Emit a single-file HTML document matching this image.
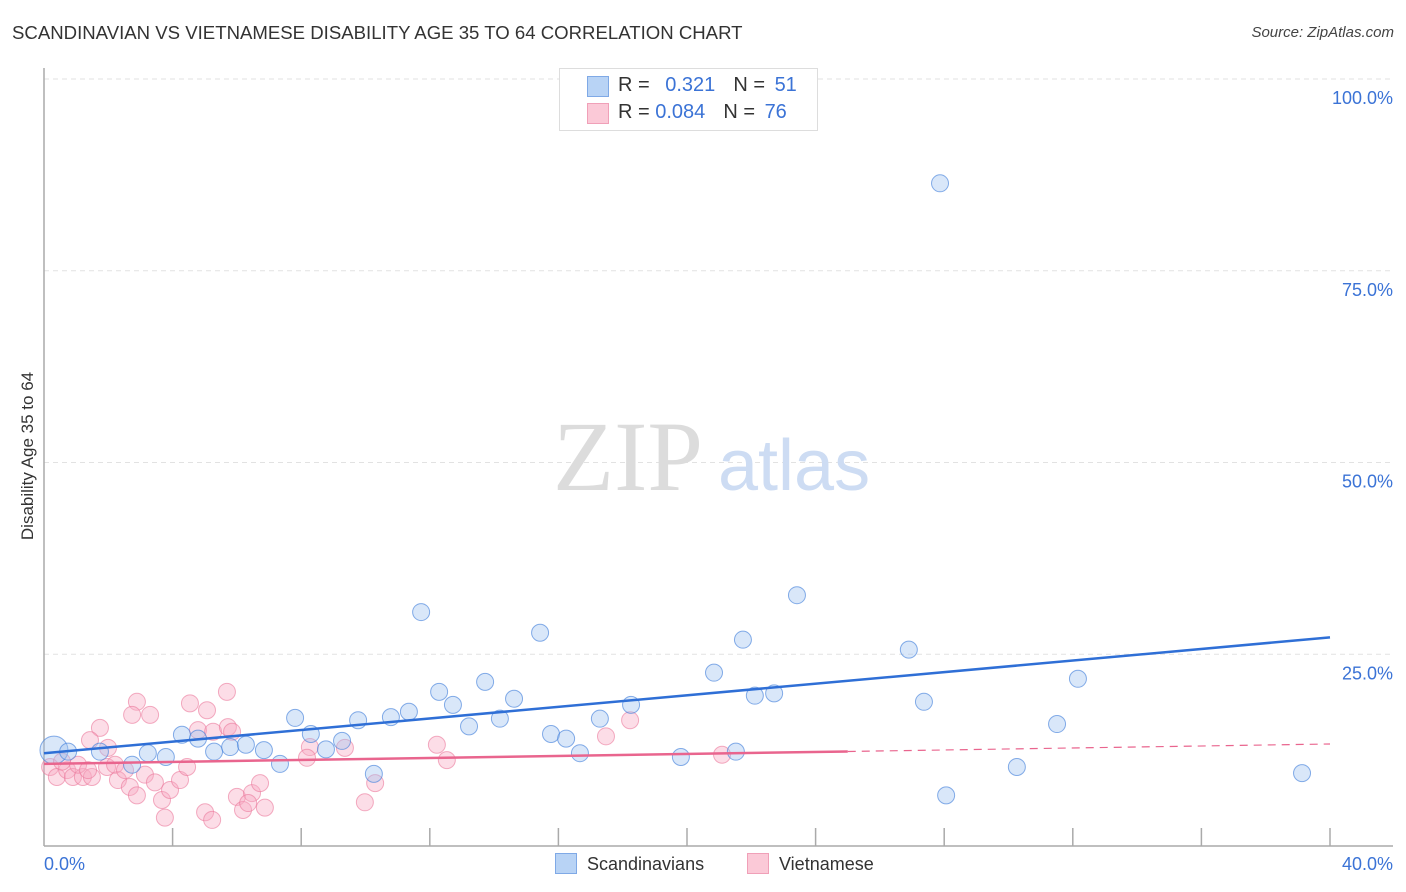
<!DOCTYPE html>
<html><head><meta charset="utf-8">
<style>
body{margin:0;background:#fff;font-family:"Liberation Sans",sans-serif;}
#wrap{position:relative;width:1406px;height:892px;overflow:hidden;}
.t{position:absolute;white-space:nowrap;}
</style></head>
<body>
<div id="wrap">
<div class="t" style="left:12px;top:22px;font-size:18.6px;color:#333;">SCANDINAVIAN VS VIETNAMESE DISABILITY AGE 35 TO 64 CORRELATION CHART</div>
<div class="t" style="right:12px;top:24px;font-size:15px;color:#444;font-style:italic;">Source: ZipAtlas.com</div>
<div class="t" style="left:28px;top:456px;font-size:17px;color:#333;transform:translate(-50%,-50%) rotate(-90deg);">Disability Age 35 to 64</div>
<svg id="plot" width="1406" height="892" style="position:absolute;left:0;top:0;"></svg>
<div class="t" style="left:559px;top:68px;width:257px;height:61px;border:1px solid #ddd;background:#fff;"></div>
<div class="t" style="left:587px;top:76px;width:20px;height:19px;background:#b8d3f5;border:1px solid #7fa9e6;"></div>
<div class="t" style="left:587px;top:103px;width:20px;height:19px;background:#fbc9d7;border:1px solid #f0a0b8;"></div>
<div class="t" style="left:618px;top:74px;font-size:20px;color:#333;">R = <span style="color:#3b73d6;margin-left:10px">0.321</span><span style="margin-left:18px">N = </span><span style="color:#3b73d6;margin-left:4px">51</span></div>
<div class="t" style="left:618px;top:101px;font-size:20px;color:#333;">R = <span style="color:#3b73d6">0.084</span><span style="margin-left:18px">N = </span><span style="color:#3b73d6;margin-left:4px">76</span></div>
<div class="t" style="left:555px;top:853px;font-size:18px;color:#333;"><span style="display:inline-block;width:20px;height:19px;background:#b8d3f5;border:1px solid #7fa9e6;vertical-align:-4px;margin-right:10px"></span>Scandinavians</div>
<div class="t" style="left:747px;top:853px;font-size:18px;color:#333;"><span style="display:inline-block;width:20px;height:19px;background:#fbc9d7;border:1px solid #f0a0b8;vertical-align:-4px;margin-right:10px"></span>Vietnamese</div>
</div>
<script>
const xTicks=[0,4,8,12,16,20,24,28,32,36,40];
const yTicks=[25,50,75,100];
const yTickLabels=["25.0%","50.0%","75.0%","100.0%"];
const blueX=[0.31,0.75,1.74,2.74,3.23,3.79,4.29,4.79,5.29,5.79,6.28,6.84,7.34,7.81,8.30,8.77,9.27,9.77,10.26,10.79,11.35,11.73,12.29,12.72,13.22,13.72,14.18,14.62,15.43,15.77,16.24,16.67,17.29,18.26,19.81,20.84,21.52,21.74,22.11,22.71,23.42,26.90,27.37,27.87,28.06,30.26,31.51,32.16,39.13];
const blueY=[12.5,12.3,12.3,10.6,12.1,11.6,14.5,14.0,12.3,12.9,13.2,12.5,10.7,16.7,14.6,12.6,13.7,16.4,9.4,16.8,17.5,30.5,20.1,18.4,15.6,21.4,16.6,19.2,27.8,14.6,14.0,12.1,16.6,18.4,11.6,22.6,12.3,26.9,19.6,19.9,32.7,25.6,18.8,86.4,6.6,10.3,15.9,21.8,9.5];
const pinkX=[0.19,0.40,0.72,0.90,1.21,1.49,1.74,1.43,1.99,1.96,2.30,2.67,2.89,2.89,2.74,3.30,3.14,3.45,3.67,3.76,3.92,4.23,4.45,4.54,5.07,4.79,5.26,5.69,5.72,5.85,5.01,5.23,6.00,6.47,6.72,6.19,6.87,6.35,8.27,8.18,9.36,10.30,9.98,12.22,12.53,17.48,18.23,21.09,0.56,1.06,1.37,2.21,2.52];
const pinkY=[10.3,9.0,9.9,9.0,9.0,9.0,15.4,13.8,12.8,10.3,8.6,7.7,6.6,18.8,17.1,17.1,9.3,8.3,6.0,3.7,7.3,8.6,10.3,18.6,17.7,15.1,14.9,20.1,15.5,14.9,4.4,3.4,6.4,6.9,8.2,4.7,5.0,5.6,12.9,11.5,12.8,8.2,5.7,13.2,11.2,14.3,16.4,11.9,11.0,10.6,9.9,10.6,9.9];
const blueTrend=[12.1,27.2];
const pinkTrend=[10.7,13.3];
const pinkSolidEnd=25;

const X0=44,X1=1330,Y0=846,Y100=79;
const sx=v=>X0+(v/40)*(X1-X0);
const sy=v=>Y0-(v/100)*(Y0-Y100);
const svg=document.getElementById('plot');
const NS='http://www.w3.org/2000/svg';
function mk(tag,attrs){const e=document.createElementNS(NS,tag);for(const k in attrs)e.setAttribute(k,attrs[k]);svg.appendChild(e);return e;}

yTicks.forEach((t,i)=>{
  const g=mk('line',{x1:X0,x2:1393,y1:sy(t),y2:sy(t),stroke:'#e2e2e2','stroke-dasharray':'5,4','stroke-width':1});
  
  
  const tx=mk('text',{x:1393,y:sy(t)+25,'text-anchor':'end','font-size':18,fill:'#3b73d6','font-family':'Liberation Sans, sans-serif'});
  tx.textContent=yTickLabels[i];
  
  
});
const ax=mk('line',{x1:X0,x2:X0,y1:68,y2:Y0,stroke:'#aaa','stroke-width':1.5});


const bx=mk('line',{x1:X0,x2:1393,y1:Y0,y2:Y0,stroke:'#aaa','stroke-width':1.5});


xTicks.forEach(t=>{
  if(t===0)return;
  const l=mk('line',{x1:sx(t),x2:sx(t),y1:828,y2:Y0,stroke:'#aaa','stroke-width':1.5});
  
  
});
const xl0=mk('text',{x:44,y:870,'font-size':18,fill:'#3b73d6','font-family':'Liberation Sans, sans-serif'});
xl0.textContent='0.0%';


const xl1=mk('text',{x:1393,y:870,'text-anchor':'end','font-size':18,fill:'#3b73d6','font-family':'Liberation Sans, sans-serif'});
xl1.textContent='40.0%';



const wm1=mk('text',{x:553,y:490,'font-size':100,fill:'#dcdcdc','font-family':'Liberation Serif, serif'});
wm1.textContent='ZIP';


const wm2=mk('text',{x:718,y:490,'font-size':72,fill:'#cddcf3','font-family':'Liberation Sans, sans-serif'});
wm2.textContent='atlas';



pinkX.forEach((x,i)=>{
  const c=mk('circle',{cx:sx(x),cy:sy(pinkY[i]),r:8.5,fill:'rgba(247,170,195,0.4)',stroke:'rgba(235,120,155,0.6)','stroke-width':1});
  
  
});
blueX.forEach((x,i)=>{
  const c=mk('circle',{cx:sx(x),cy:sy(blueY[i]),r:i===0?14:8.5,fill:'rgba(160,195,240,0.4)',stroke:'rgba(70,130,220,0.65)','stroke-width':1});
  
  
});
const bl=mk('line',{x1:sx(0),y1:sy(blueTrend[0]),x2:sx(40),y2:sy(blueTrend[1]),stroke:'#2f6fd6','stroke-width':2.5});


const pAt=x=>pinkTrend[0]+(pinkTrend[1]-pinkTrend[0])*x/40;
const pl=mk('line',{x1:sx(0),y1:sy(pAt(0)),x2:sx(pinkSolidEnd),y2:sy(pAt(pinkSolidEnd)),stroke:'#e9658e','stroke-width':2.5});


const pd=mk('line',{x1:sx(pinkSolidEnd),y1:sy(pAt(pinkSolidEnd)),x2:sx(40),y2:sy(pAt(40)),stroke:'#e9658e','stroke-width':1.2,'stroke-dasharray':'8,6'});


</script>
</body></html>
